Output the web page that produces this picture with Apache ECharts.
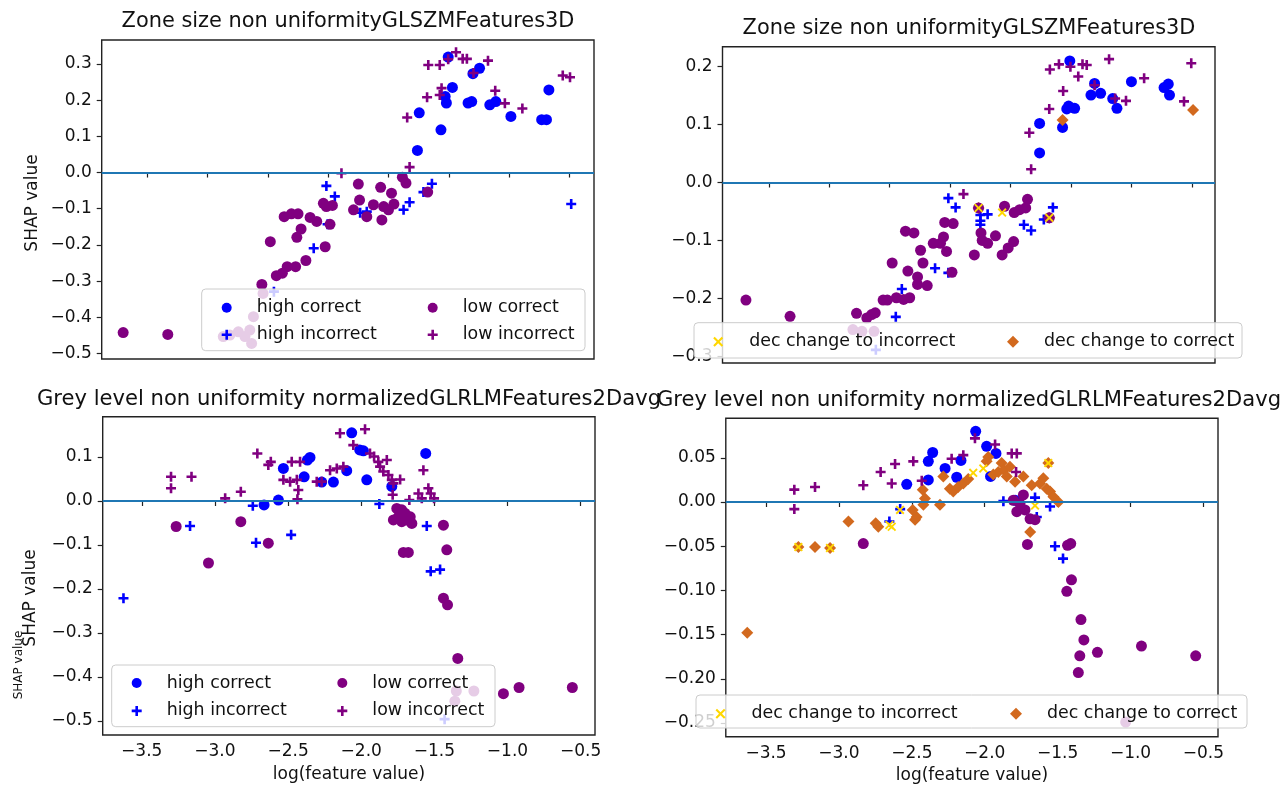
<!DOCTYPE html>
<html>
<head>
<meta charset="utf-8">
<script src="https://cdn.jsdelivr.net/npm/echarts@6/dist/echarts.min.js"></script>
<style>
html,body{margin:0;padding:0;background:#fff;}
#chart{width:1284px;height:788px;}
</style>
</head>
<body>
<div id="chart"></div>
<script>
// ---------------- DATA ----------------
const topTitle = 'Zone size non uniformityGLSZMFeatures3D';
const bottomTitle = 'Grey level non uniformity normalizedGLRLMFeatures2Davg';
const yName = 'SHAP value';
const xName = 'log(feature value)';
const seriesNames = ['high correct', 'high incorrect', 'low correct', 'low incorrect', 'dec change to incorrect', 'dec change to correct'];

const topXTicks = [1, 2, 3, 4, 5, 6, 7, 8];
const bottomXTicks = [-3.5, -3.0, -2.5, -2.0, -1.5, -1.0, -0.5];
const p1YTicks = [-0.5, -0.4, -0.3, -0.2, -0.1, 0.0, 0.1, 0.2, 0.3];
const p2YTicks = [-0.3, -0.2, -0.1, 0.0, 0.1, 0.2];
const p3YTicks = [-0.5, -0.4, -0.3, -0.2, -0.1, 0.0, 0.1];
const p4YTicks = [-0.25, -0.20, -0.15, -0.10, -0.05, 0.00, 0.05];

// Panel 1 (top-left)
const p1HighCorrect = [[5.99,0.319],[6.06,0.235],[5.94,0.210],[5.96,0.192],[6.32,0.192],[6.38,0.196],[6.40,0.273],[6.51,0.288],[6.68,0.187],[6.78,0.196],[7.03,0.155],[7.54,0.146],[7.62,0.146],[7.66,0.228],[5.51,0.165],[5.87,0.118],[5.48,0.061]];
const p1HighIncorrect = [[3.97,-0.037],[4.11,-0.066],[3.99,-0.143],[3.76,-0.209],[4.53,-0.111],[4.64,-0.108],[5.25,-0.103],[5.35,-0.082],[5.58,-0.054],[5.72,-0.031],[8.03,-0.087],[3.10,-0.329]];
const p1LowCorrect = [[0.60,-0.442],[1.34,-0.447],[2.90,-0.309],[3.04,-0.191],[3.14,-0.285],[3.24,-0.278],[3.32,-0.260],[3.46,-0.260],[3.63,-0.243],[3.95,-0.205],[3.27,-0.122],[3.39,-0.114],[3.50,-0.114],[3.55,-0.156],[3.48,-0.179],[3.70,-0.124],[3.81,-0.135],[3.92,-0.085],[3.97,-0.094],[4.07,-0.091],[4.03,-0.143],[4.50,-0.032],[4.52,-0.076],[4.42,-0.103],[4.64,-0.122],[4.75,-0.089],[4.87,-0.041],[4.89,-0.131],[4.92,-0.094],[5.00,-0.103],[5.05,-0.057],[5.09,-0.087],[5.23,-0.013],[5.29,-0.029],[5.65,-0.054],[2.92,-0.334],[2.76,-0.398],[2.37,-0.449],[2.51,-0.440],[2.62,-0.453],[2.73,-0.472],[2.70,-0.435],[2.26,-0.453]];
const p1LowIncorrect = [[4.22,-0.002],[5.35,0.015],[5.31,0.152],[5.64,0.208],[5.85,0.214],[5.88,0.233],[5.66,0.297],[5.85,0.297],[6.12,0.332],[6.23,0.314],[6.30,0.314],[5.99,0.313],[6.65,0.309],[6.41,0.275],[6.77,0.226],[6.93,0.191],[7.22,0.177],[7.89,0.268],[8.01,0.263]];

// Panel 2 (top-right)
const p2HighCorrect = [[5.98,0.210],[5.48,0.102],[5.48,0.051],[5.86,0.095],[5.93,0.127],[5.96,0.132],[6.06,0.128],[6.33,0.151],[6.39,0.171],[6.49,0.154],[6.69,0.145],[6.76,0.128],[7.00,0.174],[7.54,0.164],[7.61,0.170],[7.63,0.151]];
const p2HighIncorrect = [[3.97,-0.027],[4.09,-0.043],[4.50,-0.056],[4.50,-0.066],[4.50,-0.073],[4.62,-0.055],[3.75,-0.148],[3.97,-0.156],[3.20,-0.184],[3.10,-0.232],[5.22,-0.073],[5.34,-0.083],[5.55,-0.064],[5.70,-0.043],[2.77,-0.289]];
const p2LowCorrect = [[0.62,-0.203],[1.35,-0.231],[2.45,-0.226],[2.62,-0.234],[2.70,-0.228],[2.76,-0.225],[2.89,-0.203],[2.96,-0.203],[3.11,-0.199],[3.23,-0.202],[3.33,-0.199],[3.04,-0.139],[3.30,-0.153],[3.46,-0.163],[3.46,-0.176],[3.62,-0.178],[3.55,-0.139],[3.26,-0.084],[3.40,-0.087],[3.51,-0.117],[3.72,-0.105],[3.84,-0.105],[3.89,-0.094],[3.94,-0.119],[3.91,-0.069],[4.05,-0.071],[4.03,-0.155],[4.40,-0.125],[4.51,-0.087],[4.53,-0.100],[4.62,-0.105],[4.75,-0.092],[4.86,-0.125],[4.96,-0.113],[5.05,-0.102],[4.90,-0.041],[5.06,-0.052],[5.15,-0.047],[5.25,-0.044],[5.28,-0.029],[4.47,-0.044],[5.64,-0.061],[2.39,-0.254],[2.54,-0.257],[2.74,-0.257]];
const p2LowIncorrect = [[4.22,-0.020],[5.34,0.023],[5.31,0.086],[5.64,0.127],[5.65,0.195],[5.80,0.204],[5.87,0.158],[5.99,0.200],[6.12,0.183],[6.19,0.204],[6.26,0.203],[6.63,0.213],[6.39,0.168],[6.73,0.145],[6.91,0.141],[7.21,0.180],[7.99,0.206],[7.87,0.140]];
const p2DecIncorrect = [[4.47,-0.044],[4.86,-0.052],[5.64,-0.061]];
const p2DecCorrect = [[5.86,0.108],[8.02,0.125],[4.47,-0.044],[5.64,-0.061]];

// Panel 3 (bottom-left)
const p3HighCorrect = [[-2.065,0.155],[-1.985,0.114],[-2.01,0.116],[-1.962,0.048],[-1.559,0.108],[-1.791,0.033],[-2.368,0.093],[-2.35,0.099],[-2.532,0.074],[-2.39,0.055],[-2.27,0.043],[-2.19,0.043],[-2.099,0.069],[-2.566,0.002],[-2.664,-0.009]];
const p3HighIncorrect = [[-3.625,-0.221],[-3.17,-0.057],[-2.741,-0.011],[-2.719,-0.095],[-2.479,-0.077],[-1.876,-0.007],[-1.552,-0.057],[-1.525,-0.160],[-1.461,-0.156],[-1.43,-0.496]];
const p3LowCorrect = [[-3.265,-0.058],[-3.044,-0.141],[-2.823,-0.047],[-2.635,-0.096],[-1.757,-0.017],[-1.723,-0.020],[-1.78,-0.043],[-1.746,-0.036],[-1.70,-0.028],[-1.689,-0.043],[-1.654,-0.051],[-1.665,-0.036],[-1.723,-0.047],[-1.712,-0.117],[-1.678,-0.117],[-1.438,-0.055],[-1.415,-0.111],[-1.438,-0.221],[-1.41,-0.236],[-1.34,-0.358],[-1.028,-0.438],[-0.921,-0.424],[-0.557,-0.424],[-1.35,-0.432],[-1.23,-0.432],[-1.36,-0.455]];
const p3LowIncorrect = [[-3.30,0.055],[-3.30,0.029],[-3.16,0.055],[-2.93,0.006],[-2.823,0.021],[-2.71,0.108],[-2.635,0.082],[-2.618,0.089],[-2.532,0.048],[-2.486,0.044],[-2.44,0.048],[-2.475,0.089],[-2.418,0.089],[-2.43,0.025],[-2.436,0.004],[-2.304,0.044],[-2.27,0.044],[-2.213,0.070],[-2.167,0.074],[-2.122,0.078],[-2.145,0.154],[-1.974,0.163],[-2.054,0.127],[-1.94,0.108],[-1.912,0.101],[-1.883,0.089],[-1.871,0.078],[-1.825,0.093],[-1.849,0.067],[-1.814,0.059],[-1.791,0.048],[-1.78,0.040],[-1.734,0.049],[-1.785,0.014],[-1.671,0.002],[-1.609,0.017],[-1.586,0.006],[-1.575,0.070],[-1.541,0.029],[-1.525,0.017],[-1.502,0.006]];

// Panel 4 (bottom-right)
const p4HighCorrect = [[-2.062,0.080],[-1.987,0.063],[-1.923,0.055],[-2.357,0.056],[-2.387,0.046],[-2.272,0.038],[-2.192,0.028],[-2.163,0.047],[-2.387,0.025],[-2.535,0.020],[-1.792,0.002],[-1.96,0.029]];
const p4HighIncorrect = [[-1.872,0.001],[-1.655,0.005],[-1.552,-0.005],[-1.643,-0.017],[-1.518,-0.050],[-1.463,-0.064],[-2.654,-0.022],[-2.58,-0.008]];
const p4LowCorrect = [[-1.735,0.008],[-1.758,-0.002],[-1.78,-0.011],[-1.724,-0.009],[-1.689,-0.019],[-1.655,-0.020],[-1.804,0.002],[-2.833,-0.047],[-1.707,-0.048],[-1.432,-0.049],[-1.41,-0.047],[-1.405,-0.088],[-1.437,-0.101],[-1.34,-0.133],[-1.32,-0.156],[-1.348,-0.174],[-1.358,-0.193],[-1.227,-0.170],[-0.925,-0.163],[-0.553,-0.174],[-1.033,-0.249]];
const p4LowIncorrect = [[-3.306,0.014],[-3.164,0.017],[-3.306,-0.008],[-2.833,0.019],[-2.714,0.034],[-2.615,0.043],[-2.638,0.021],[-2.49,0.046],[-2.227,0.049],[-2.147,0.053],[-2.067,0.072],[-1.929,0.065],[-1.815,0.055],[-1.78,0.055],[-1.785,0.034],[-2.432,0.024]];
const p4DecIncorrect = [[-3.278,-0.051],[-3.061,-0.052],[-2.654,-0.026],[-2.638,-0.028],[-2.581,-0.009],[-2.079,0.033],[-2.01,0.038],[-1.564,0.044],[-1.655,-0.004]];
const p4DecCorrect = [[-3.629,-0.148],[-3.278,-0.051],[-3.164,-0.051],[-3.061,-0.052],[-2.935,-0.022],[-2.748,-0.024],[-2.73,-0.028],[-2.494,-0.009],[-2.467,-0.017],[-2.421,-0.003],[-2.41,0.004],[-2.425,0.014],[-2.478,-0.020],[-2.307,-0.003],[-2.284,0.029],[-2.239,0.015],[-2.216,0.012],[-2.182,0.017],[-2.147,0.021],[-2.113,0.026],[-1.976,0.051],[-1.987,0.046],[-1.941,0.031],[-1.907,0.034],[-1.884,0.044],[-1.868,0.036],[-1.849,0.029],[-1.827,0.040],[-1.792,0.023],[-1.735,0.029],[-1.678,0.019],[-1.621,0.021],[-1.598,0.027],[-1.575,0.015],[-1.552,0.012],[-1.529,0.006],[-1.495,0.000],[-1.688,-0.034],[-1.564,0.044]];

// ---------------- STYLE / LAYOUT ----------------
const FONT = '"DejaVu Sans", sans-serif';
const FAM = 'DejaVu Sans';
const TXT = '#111';
const FRAME = '#222';
const C_BLUE = '#0000ff', C_PURPLE = '#800080', C_GOLD = '#ffd700', C_ORANGE = '#d2691e';
const PLUS = 'path://M37,0H63V37H100V63H63V100H37V63H0V37H37Z';
const CROSS = 'path://M0,15L15,0L50,35L85,0L100,15L65,50L100,85L85,100L50,65L15,100L0,85L35,50Z';
const DIAMOND = 'path://M50,0L100,50L50,100L0,50Z';

const grids = [
  {left: 101.7, top: 40, width: 492.3, height: 319},
  {left: 722.5, top: 46.7, width: 492.5, height: 316.3},
  {left: 102.7, top: 416.7, width: 492.3, height: 318.3},
  {left: 725.8, top: 418.3, width: 492.2, height: 318.4}
];
const xRanges = [[0.244, 8.408], [0.232, 8.383], [-3.767, -0.402], [-3.776, -0.40]];
const yRanges = [[-0.515, 0.366], [-0.3117, 0.2345], [-0.532, 0.1916], [-0.2655, 0.0947]];
const yTicks = [p1YTicks, p2YTicks, p3YTicks, p4YTicks];
const yDec = [1, 1, 1, 2];

const fmt = d => v => (v < -1e-9 ? '\u2212' : '') + Math.abs(v).toFixed(d);

const tickStyle = {show: true, length: 5, lineStyle: {color: FRAME, width: 1.2}};

const xAxes = grids.map((g, i) => {
  const isTop = i < 2;
  return {
    type: 'value', gridIndex: i, min: xRanges[i][0], max: xRanges[i][1],
    axisLine: {show: false},
    splitLine: {show: false},
    axisTick: Object.assign({}, tickStyle, {customValues: isTop ? topXTicks : bottomXTicks}),
    axisLabel: isTop ? {show: false} : {
      show: true, customValues: bottomXTicks, formatter: fmt(1),
      fontFamily: FAM, fontSize: 17, color: TXT, margin: 8
    }
  };
});
const yAxes = grids.map((g, i) => ({
  type: 'value', gridIndex: i, min: yRanges[i][0], max: yRanges[i][1],
  axisLine: {show: false},
  splitLine: {show: false},
  axisTick: Object.assign({}, tickStyle, {customValues: yTicks[i]}),
  axisLabel: {show: true, customValues: yTicks[i], formatter: fmt(yDec[i]),
    fontFamily: FAM, fontSize: 17, color: TXT, margin: 10}
}));

const zeroLine = {
  silent: true, symbol: ['none', 'none'], animation: false,
  label: {show: false},
  lineStyle: {color: '#1f77b4', width: 2, type: 'solid'},
  emphasis: {disabled: true},
  data: [{yAxis: 0}]
};

function mk(name, data, gi, symbol, size, color, withLine) {
  const s = {
    type: 'scatter', name, data, xAxisIndex: gi, yAxisIndex: gi,
    symbol, symbolSize: size, silent: true,
    itemStyle: {color, opacity: 1},
    emphasis: {disabled: true}
  };
  if (withLine) s.markLine = zeroLine;
  return s;
}

const series = [];
const panels = [
  [p1HighCorrect, p1HighIncorrect, p1LowCorrect, p1LowIncorrect, null, null],
  [p2HighCorrect, p2HighIncorrect, p2LowCorrect, p2LowIncorrect, p2DecIncorrect, p2DecCorrect],
  [p3HighCorrect, p3HighIncorrect, p3LowCorrect, p3LowIncorrect, null, null],
  [p4HighCorrect, p4HighIncorrect, p4LowCorrect, p4LowIncorrect, p4DecIncorrect, p4DecCorrect]
];
panels.forEach((p, gi) => {
  series.push(mk(seriesNames[0], p[0], gi, 'circle', 11, C_BLUE, true));
  series.push(mk(seriesNames[1], p[1], gi, PLUS, 10, C_BLUE));
  if (p[5]) series.push(mk(seriesNames[5], p[5], gi, DIAMOND, 12, C_ORANGE));
  series.push(mk(seriesNames[2], p[2], gi, 'circle', 11, C_PURPLE));
  series.push(mk(seriesNames[3], p[3], gi, PLUS, 10, C_PURPLE));
  if (p[4]) series.push(mk(seriesNames[4], p[4], gi, CROSS, 9, C_GOLD));
});

const legTxt = {fontFamily: FAM, fontSize: 17.4, color: TXT};
// left = icon centre - icon size / 2 (legend box starts at the icon's visible edge)
function leg(left, top, names, icons, gap, iw, ih) {
  return {
    left, top, orient: 'vertical', padding: 0, itemGap: gap,
    itemWidth: iw, itemHeight: ih, selectedMode: false, z: 6,
    textStyle: legTxt,
    data: names.map((n, k) => ({name: n, icon: icons[k]}))
  };
}
const legends = [
  leg(221.7, 299.3, ['high correct', 'high incorrect'], ['circle', PLUS], 9.9, 50, 10),
  leg(427.7, 299.3, ['low correct', 'low incorrect'], ['circle', PLUS], 9.9, 50, 10),
  leg(131.7, 674.5, ['high correct', 'high incorrect'], ['circle', PLUS], 10.9, 50, 10),
  leg(337.3, 674.5, ['low correct', 'low incorrect'], ['circle', PLUS], 10.9, 50, 10),
  leg(713.2, 333.3, ['dec change to incorrect'], [CROSS], 10, 52, 10),
  leg(1007, 333.3, ['dec change to correct'], [DIAMOND], 10, 52, 12),
  leg(715.5, 705.3, ['dec change to incorrect'], [CROSS], 10, 52, 10),
  leg(1010, 705.3, ['dec change to correct'], [DIAMOND], 10, 52, 12)
];

function box(x, y, w, h) {
  return {type: 'rect', z: 3, silent: true,
    shape: {x, y, width: w, height: h, r: 4},
    style: {fill: 'rgba(255,255,255,0.8)', stroke: '#cccccc', lineWidth: 1}};
}
function txt(x, y, text, size, rot) {
  return {type: 'text', x, y, z: 5, silent: true, rotation: rot || 0,
    style: {text, font: size + 'px ' + FONT, fill: TXT,
      align: 'center', verticalAlign: 'middle', textAlign: 'center', textVerticalAlign: 'middle'}};
}

const graphics = [
  box(201.7, 289, 383.3, 61.7),
  box(694, 322.7, 548, 35.3),
  box(111.7, 665, 383.3, 61.7),
  box(696, 695, 551, 33),
  txt(348, 22, topTitle, 20.9),
  txt(969, 29, topTitle, 20.9),
  txt(349, 400, bottomTitle, 21.1),
  txt(969, 401, bottomTitle, 21.1),
  txt(33, 203, yName, 17, Math.PI / 2),
  txt(31, 598, yName, 17, Math.PI / 2),
  txt(19, 665, yName, 12, Math.PI / 2),
  txt(349, 775, xName, 17),
  txt(972, 776, xName, 17)
];

const option = {
  animation: false,
  backgroundColor: '#ffffff',
  grid: grids.map(g => Object.assign({show: true, borderColor: FRAME, borderWidth: 1.4, backgroundColor: 'transparent', containLabel: false}, g)),
  xAxis: xAxes,
  yAxis: yAxes,
  legend: legends,
  series,
  graphic: {elements: graphics}
};

const chart = echarts.init(document.getElementById('chart'), null, {renderer: 'canvas'});
chart.setOption(option);
</script>
</body>
</html>
